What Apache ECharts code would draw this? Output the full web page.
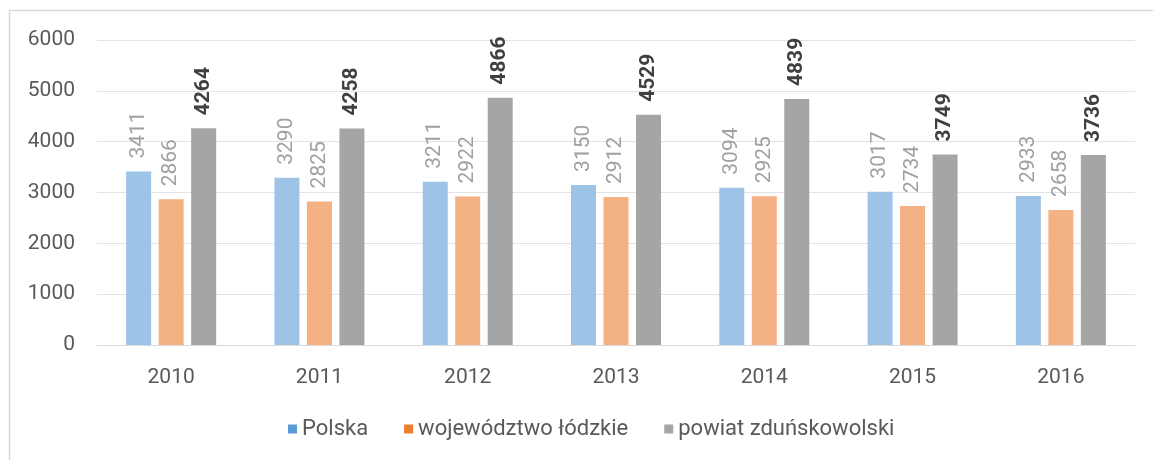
<!DOCTYPE html>
<html>
<head>
<meta charset="utf-8">
<script src="https://cdn.jsdelivr.net/npm/echarts@6/dist/echarts.min.js"></script>
<style>
  html, body { margin: 0; padding: 0; background: #fff; }
  #chart { width: 1153px; height: 460px; }
</style>
</head>
<body>
<div id="chart"></div>
<script>
const years = ['2010', '2011', '2012', '2013', '2014', '2015', '2016'];
const polska = [3411, 3290, 3211, 3150, 3094, 3017, 2933];
const lodzkie = [2866, 2825, 2922, 2912, 2925, 2734, 2658];
const zdunskowolski = [4264, 4258, 4866, 4529, 4839, 3749, 3736];
const seriesNames = ['Polska', 'województwo łódzkie', 'powiat zduńskowolski'];

const font = 'Roboto';

function barLabel(bold) {
  return {
    show: true,
    position: 'top',
    rotate: 90,
    align: 'left',
    verticalAlign: 'middle',
    distance: 13,
    fontFamily: font,
    fontSize: 21,
    fontWeight: bold ? 'bold' : 'normal',
    color: bold ? '#404040' : '#a0a0a0'
  };
}

const chart = echarts.init(document.getElementById('chart'));
chart.setOption({
  animation: false,
  backgroundColor: '#fff',
  graphic: [{
    type: 'rect',
    shape: { x: 9.5, y: 10.5, width: 1160, height: 470 },
    style: { fill: 'none', stroke: '#d9d9d9', lineWidth: 1.5 },
    silent: true
  }],
  grid: { left: 97, right: 18, top: 40, bottom: 115 },
  legend: {
    bottom: 15,
    left: 283,
    itemWidth: 9,
    itemHeight: 9,
    itemGap: 36,
    icon: 'rect',
    textStyle: { fontFamily: font, fontSize: 22, color: '#595959' },
    data: [
      { name: seriesNames[0], itemStyle: { color: '#5b9bd5' } },
      { name: seriesNames[1], itemStyle: { color: '#ed7d31' } },
      { name: seriesNames[2], itemStyle: { color: '#a5a5a5' } }
    ]
  },
  xAxis: {
    type: 'category',
    data: years,
    axisLine: { lineStyle: { color: '#d9d9d9' } },
    axisTick: { show: false },
    axisLabel: { fontFamily: font, fontSize: 21, color: '#595959', margin: 22 }
  },
  yAxis: {
    type: 'value',
    min: 0,
    max: 6000,
    interval: 1000,
    axisLine: { show: false },
    axisTick: { show: false },
    splitLine: { lineStyle: { color: '#e3e3e3' } },
    axisLabel: {
      fontFamily: font, fontSize: 21, color: '#595959', margin: 22,
      formatter: function (v) { return String(v); }
    }
  },
  series: [
    {
      name: seriesNames[0], type: 'bar', data: polska,
      barWidth: 25, barGap: '30%',
      itemStyle: { color: '#9dc3e6' },
      label: barLabel(false)
    },
    {
      name: seriesNames[1], type: 'bar', data: lodzkie,
      barWidth: 25, barGap: '30%',
      itemStyle: { color: '#f4b183' },
      label: barLabel(false)
    },
    {
      name: seriesNames[2], type: 'bar', data: zdunskowolski,
      barWidth: 25, barGap: '30%',
      itemStyle: { color: '#a5a5a5' },
      label: barLabel(true)
    }
  ]
});
</script>
</body>
</html>
